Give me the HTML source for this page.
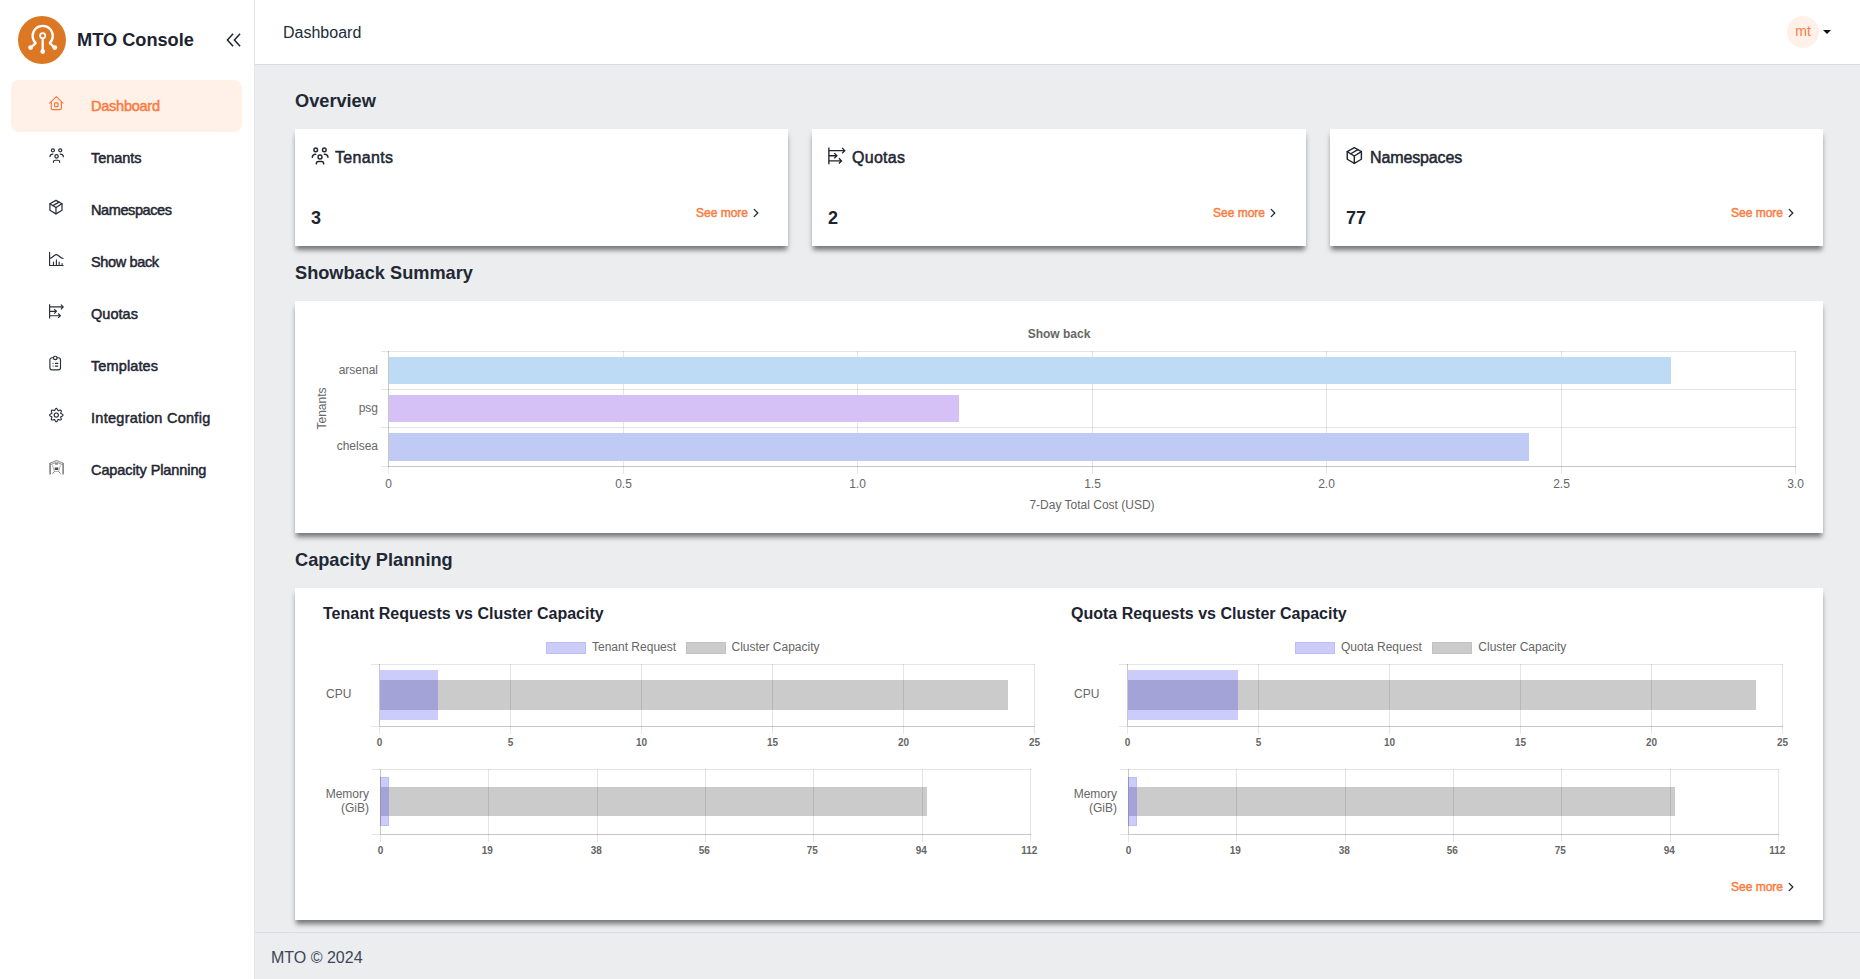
<!DOCTYPE html>
<html lang="en">
<head>
<meta charset="utf-8">
<title>MTO Console</title>
<style>
*{box-sizing:border-box;margin:0;padding:0}
html,body{width:1860px;height:979px;overflow:hidden;background:#ebedef}
body{position:relative;font-family:"Liberation Sans",sans-serif;color:#1f2733}
.abs{position:absolute}
/* ---------- sidebar ---------- */
#sidebar{position:absolute;left:0;top:0;width:255px;height:979px;background:#fff;border-right:1px solid #e3e5e9}
#logo{position:absolute;left:18px;top:16px;width:48px;height:48px}
#brand{position:absolute;left:77px;top:28px;font-size:18.2px;font-weight:700;line-height:24px;color:#1d2330;white-space:nowrap}
.nav{position:absolute;left:11px;width:231px;height:52px;border-radius:8px}
.nav.active{background:#fff0e8}
.nav .ico{position:absolute;left:36.9px;top:14.9px;width:17.1px;height:17.1px}
.nav .lbl{position:absolute;left:80px;top:15px;font-size:14.5px;line-height:22px;color:#1f2733;white-space:nowrap;-webkit-text-stroke:.5px #1f2733}
.nav.active .lbl{color:#f97c40;-webkit-text-stroke:.5px #f97c40}
/* ---------- header ---------- */
#header{position:absolute;left:255px;top:0;width:1605px;height:65px;background:#fff;border-bottom:1px solid #d8dbe0}
#crumb{position:absolute;left:28px;top:22px;font-size:16px;line-height:22px;color:#222b38;white-space:nowrap}
#avatar{position:absolute;left:1532px;top:16px;width:32px;height:32px;border-radius:50%;background:#fff0e8;color:#f97c40;font-size:14px;line-height:30px;text-align:center}
#caret{position:absolute;left:1568px;top:30px;width:0;height:0;border-left:4px solid transparent;border-right:4px solid transparent;border-top:4px solid #111}
/* ---------- content ---------- */
.h{position:absolute;left:295px;font-size:18.2px;font-weight:700;line-height:24px;color:#222834;white-space:nowrap}
.card{position:absolute;background:#fff;box-shadow:0 5px 5px -1px rgba(0,0,0,.5)}
.ct{position:absolute;left:40px;top:18px;font-size:16px;line-height:22px;color:#1f2733;white-space:nowrap;-webkit-text-stroke:.5px #1f2733}
.cn{position:absolute;left:16px;top:77px;font-size:18px;font-weight:700;line-height:24px;color:#1d2330}
.sm{position:absolute;font-size:12px;line-height:16px;color:#f97c40;white-space:nowrap;-webkit-text-stroke:.45px #f97c40}
.chev{position:absolute;width:8px;height:10px}
.cico{position:absolute;left:14.6px;top:16.5px;width:20px;height:20px;color:#22272f}
.nav .ico{color:#2a2f38}
.nav.active .ico{color:#f6773a}
/* ---------- footer ---------- */
#footer{position:absolute;left:255px;top:932px;width:1605px;height:47px;border-top:1px solid #d8dbe0;background:#ebedef}
#footer span{position:absolute;left:16px;top:14px;font-size:16px;line-height:22px;color:#3c4656;white-space:nowrap}
/* ---------- charts ---------- */
.t{position:absolute;font-size:12px;line-height:14px;color:#666;white-space:nowrap}
.tb{position:absolute;font-size:10px;font-weight:700;line-height:12px;color:#666;white-space:nowrap;width:40px;margin-left:-20px;text-align:center}
.tc{width:60px;margin-left:-30px;text-align:center}
.g{position:absolute;background:#e2e2e2}
.ax{position:absolute;background:#c4c4c4}
.bar{position:absolute}
</style>
</head>
<body>
<svg width="0" height="0" style="position:absolute">
<defs>
<symbol id="i-home" viewBox="-0.1 -0.1 17.1 17.1"><g fill="none" stroke="currentColor" stroke-width="1.15" stroke-linecap="round" stroke-linejoin="round"><path d="M1.6 8 L8.25 1.5 L14.9 8"/><path d="M3.2 6.9 V13 a1.6 1.6 0 0 0 1.6 1.6 H11.7 a1.6 1.6 0 0 0 1.6 -1.6 V6.9"/><rect x="6.45" y="7.8" width="3.5" height="3.7" rx=".6"/></g></symbol>
<symbol id="i-tenants" viewBox="0 0 16 16"><g fill="none" stroke="currentColor" stroke-width="1.15" stroke-linecap="round" stroke-linejoin="round"><circle cx="4.6" cy="3.1" r="1.45"/><circle cx="11.45" cy="3.1" r="1.45"/><circle cx="8" cy="8.75" r="1.6"/><path d="M1.8 9.1 A2.8 2.8 0 0 1 4.6 6.6"/><path d="M11.5 6.6 A2.8 2.8 0 0 1 14.4 9.1"/><path d="M5.1 14.3 V13.9 a1.5 1.5 0 0 1 1.5 -1.5 H9.4 a1.5 1.5 0 0 1 1.5 1.5 V14.3"/></g></symbol>
<symbol id="i-cube" viewBox="0 0 16 16"><g fill="none" stroke="currentColor" stroke-width="1.15" stroke-linecap="round" stroke-linejoin="round"><path d="M7.45 1.3 L13.1 4.45 V10.6 L7.45 13.9 L1.8 10.6 V4.45 Z"/><path d="M1.8 4.45 L7.45 8 L13.1 4.45"/><path d="M7.45 8 V13.9"/><path d="M4.6 6.2 L10.3 2.9"/></g></symbol>
<symbol id="i-chart" viewBox="-0.1 -0.1 17.1 17.1"><g fill="none" stroke="currentColor" stroke-width="1.15" stroke-linecap="round" stroke-linejoin="round"><path d="M1.5 1.3 V14.4 H15"/><path d="M1.5 7.4 C4.6 7.4 5.4 3.6 8.2 3.6 S11.9 7.4 15 7.4"/><path d="M5.4 11 V14.4 M8.3 8.8 V14.4 M11.05 11 V14.4 M14 12.4 V14.4"/></g></symbol>
<symbol id="i-quota" viewBox="0 0 16 16"><g fill="none" stroke="currentColor" stroke-width="1.1" stroke-linecap="butt" stroke-linejoin="miter"><path d="M1.5 1.2 V14.6"/><path d="M1.5 3.7 H13.6 M12.1 1.5 L14.2 3.7 L12.1 5.9"/><path d="M1.5 7.8 H7.3 M5.8 5.7 L7.9 7.8 L5.8 9.9"/><path d="M1.5 11.9 H10.9 M9.5 9.8 L11.6 11.9 L9.5 14"/></g></symbol>
<symbol id="i-clip" viewBox="-0.1 -0.1 17.1 17.1"><g fill="none" stroke="currentColor" stroke-width="1.15" stroke-linecap="round" stroke-linejoin="round"><path d="M5.4 2.7 H4 a2.2 2.2 0 0 0 -2.2 2.2 V12.6 a2.2 2.2 0 0 0 2.2 2.2 H10.2 a2.2 2.2 0 0 0 2.2 -2.2 V4.9 a2.2 2.2 0 0 0 -2.2 -2.2 H9"/><rect x="5.4" y="1.2" width="3.6" height="3.3" rx="1.6"/><path d="M7.3 8.3 H9.7 M7.3 11 H9.7"/><path d="M4.7 8.3 H5.3 M4.7 11 H5.3" stroke-opacity=".55"/></g></symbol>
<symbol id="i-gear" viewBox="-0.1 -0.1 17.1 17.1"><g fill="none" stroke="currentColor" stroke-width="1.15" stroke-linejoin="round"><path d="M14.90 8.00 L14.76 8.43 L14.37 8.81 L13.84 9.12 L13.30 9.37 L12.87 9.58 L12.63 9.84 L12.62 10.18 L12.77 10.64 L12.98 11.19 L13.14 11.79 L13.14 12.33 L12.94 12.74 L12.53 12.94 L11.99 12.94 L11.39 12.78 L10.84 12.57 L10.38 12.42 L10.04 12.43 L9.78 12.67 L9.57 13.10 L9.32 13.64 L9.01 14.17 L8.63 14.56 L8.20 14.70 L7.77 14.56 L7.39 14.17 L7.08 13.64 L6.83 13.10 L6.62 12.67 L6.36 12.43 L6.02 12.42 L5.56 12.57 L5.01 12.78 L4.41 12.94 L3.87 12.94 L3.46 12.74 L3.26 12.33 L3.26 11.79 L3.42 11.19 L3.63 10.64 L3.78 10.18 L3.77 9.84 L3.53 9.58 L3.10 9.37 L2.56 9.12 L2.03 8.81 L1.64 8.43 L1.50 8.00 L1.64 7.57 L2.03 7.19 L2.56 6.88 L3.10 6.63 L3.53 6.42 L3.77 6.16 L3.78 5.82 L3.63 5.36 L3.42 4.81 L3.26 4.21 L3.26 3.67 L3.46 3.26 L3.87 3.06 L4.41 3.06 L5.01 3.22 L5.56 3.43 L6.02 3.58 L6.36 3.57 L6.62 3.33 L6.83 2.90 L7.08 2.36 L7.39 1.83 L7.77 1.44 L8.20 1.30 L8.63 1.44 L9.01 1.83 L9.32 2.36 L9.57 2.90 L9.78 3.33 L10.04 3.57 L10.38 3.58 L10.84 3.43 L11.39 3.22 L11.99 3.06 L12.53 3.06 L12.94 3.26 L13.14 3.67 L13.14 4.21 L12.98 4.81 L12.77 5.36 L12.62 5.82 L12.63 6.16 L12.87 6.42 L13.30 6.63 L13.84 6.88 L14.37 7.19 L14.76 7.57Z"/><circle cx="8.2" cy="8" r="2.1"/></g></symbol>
<symbol id="i-cap" viewBox="-0.1 -0.1 17.1 17.1"><g fill="none" stroke="#787878" stroke-width="1" stroke-linecap="butt" stroke-linejoin="round"><path d="M1.3 4.4 L8.4 1.4 L15.7 4.4" stroke-width=".9"/><path d="M2.6 5.5 L8.4 3.1 L14.4 5.5" stroke-width=".8"/><path d="M2 4.2 V15.5 M15 4.2 V15.5" stroke-width="1.5"/><path d="M4.4 5.8 L6.2 12.4 H10.6 L12.4 5.8" stroke-width=".8" stroke-opacity=".7"/><path d="M6.2 12.4 L4.4 14.6 M10.6 12.4 L12.4 14.6" stroke-width="1"/><rect x="6.6" y="8.4" width="3.6" height="2.5" fill="#4a4a4a" stroke="none"/><rect x="7" y="4.3" width="2.8" height="1.1" fill="#4a4a4a" stroke="none"/></g></symbol>
<symbol id="i-chev" viewBox="0 0 8 10"><path d="M2.2 1.4 L5.8 5 L2.2 8.6" fill="none" stroke="#222834" stroke-width="1.3" stroke-linecap="round" stroke-linejoin="round"/></symbol>
</defs>
</svg>
<!-- SIDEBAR -->
<div id="sidebar">
  <svg id="logo" viewBox="0 0 48 48"><circle cx="24" cy="24" r="24" fill="#dc7824"/><g fill="none" stroke="#fff" stroke-width="2.3" stroke-linecap="round" stroke-linejoin="round"><path d="M12.8 31.7 L17.6 27.1 A10.1 10.1 0 1 1 31.8 27.1 L36.6 31.7"/><path d="M24.7 23 V35.5"/><circle cx="24.7" cy="19.8" r="2.6" stroke-width="1.7"/></g><g fill="#fff"><circle cx="12.6" cy="31.6" r="2.4"/><circle cx="36.8" cy="31.6" r="2.4"/><circle cx="24.7" cy="35.6" r="2.3"/></g></svg>
  <div id="brand">MTO Console</div>
  <svg id="collapse" viewBox="0 0 16 14" style="position:absolute;left:226px;top:33px;width:16px;height:14px"><path d="M6.6 1.3 L1.4 7 L6.6 12.7 M13.6 1.3 L8.4 7 L13.6 12.7" fill="none" stroke="#1d2330" stroke-width="1.5" stroke-linecap="square" stroke-linejoin="miter"/></svg>
  <div class="nav active" style="top:80px"><svg class="ico"><use href="#i-home"/></svg><div class="lbl" style="letter-spacing:-0.24px">Dashboard</div></div>
  <div class="nav" style="top:132px"><svg class="ico"><use href="#i-tenants"/></svg><div class="lbl" style="letter-spacing:-0.03px">Tenants</div></div>
  <div class="nav" style="top:184px"><svg class="ico"><use href="#i-cube"/></svg><div class="lbl" style="letter-spacing:-0.41px">Namespaces</div></div>
  <div class="nav" style="top:236px"><svg class="ico"><use href="#i-chart"/></svg><div class="lbl" style="letter-spacing:-0.36px">Show back</div></div>
  <div class="nav" style="top:288px"><svg class="ico"><use href="#i-quota"/></svg><div class="lbl" style="letter-spacing:0.04px">Quotas</div></div>
  <div class="nav" style="top:340px"><svg class="ico"><use href="#i-clip"/></svg><div class="lbl" style="letter-spacing:0.12px">Templates</div></div>
  <div class="nav" style="top:392px"><svg class="ico"><use href="#i-gear"/></svg><div class="lbl" style="letter-spacing:0.28px">Integration Config</div></div>
  <div class="nav" style="top:444px"><svg class="ico"><use href="#i-cap"/></svg><div class="lbl" style="letter-spacing:-0.09px">Capacity Planning</div></div>
</div>
<!-- HEADER -->
<div id="header">
  <div id="crumb">Dashboard</div>
  <div id="avatar">mt</div>
  <div id="caret"></div>
</div>
<!-- CONTENT -->
<div class="h" style="top:89px">Overview</div>
<div class="card" id="c1" style="left:295px;top:129px;width:493px;height:117px"><svg class="cico"><use href="#i-tenants"/></svg><div class="ct" style="letter-spacing:0.32px">Tenants</div><div class="cn">3</div><div class="sm" style="left:401px;top:76px">See more</div><svg class="chev" style="left:457px;top:79px"><use href="#i-chev"/></svg></div>
<div class="card" id="c2" style="left:812px;top:129px;width:494px;height:117px"><svg class="cico"><use href="#i-quota"/></svg><div class="ct" style="letter-spacing:0.28px">Quotas</div><div class="cn">2</div><div class="sm" style="left:401px;top:76px">See more</div><svg class="chev" style="left:457px;top:79px"><use href="#i-chev"/></svg></div>
<div class="card" id="c3" style="left:1330px;top:129px;width:493px;height:117px"><svg class="cico"><use href="#i-cube"/></svg><div class="ct" style="letter-spacing:-0.13px">Namespaces</div><div class="cn">77</div><div class="sm" style="left:401px;top:76px">See more</div><svg class="chev" style="left:457px;top:79px"><use href="#i-chev"/></svg></div>
<div class="h" style="top:261px">Showback Summary</div>
<div class="card" id="c4" style="left:295px;top:301px;width:1528px;height:232px"></div>
<div class="h" style="top:548px">Capacity Planning</div>
<div class="card" id="c5" style="left:295px;top:588px;width:1528px;height:332px"><div class="sm" style="left:1436px;top:291px">See more</div><svg class="chev" style="left:1492px;top:294px"><use href="#i-chev"/></svg></div>
<!--CHARTS-->
<svg id="charts" width="1860" height="979" viewBox="0 0 1860 979" shape-rendering="crispEdges" style="position:absolute;left:0;top:0;font-family:'Liberation Sans',sans-serif">
<rect x="381" y="351" width="1415" height="1" fill="rgba(0,0,0,.1)"/>
<rect x="381" y="389" width="1415" height="1" fill="rgba(0,0,0,.1)"/>
<rect x="381" y="427" width="1415" height="1" fill="rgba(0,0,0,.1)"/>
<rect x="381" y="466" width="7" height="1" fill="rgba(0,0,0,.1)"/>
<rect x="388" y="466" width="1408" height="1" fill="rgba(0,0,0,.22)"/>
<rect x="388" y="351" width="1" height="116" fill="rgba(0,0,0,.22)"/>
<rect x="388" y="467" width="1" height="7" fill="rgba(0,0,0,.1)"/>
<rect x="623" y="351" width="1" height="123" fill="rgba(0,0,0,.1)"/>
<rect x="857" y="351" width="1" height="123" fill="rgba(0,0,0,.1)"/>
<rect x="1092" y="351" width="1" height="123" fill="rgba(0,0,0,.1)"/>
<rect x="1326" y="351" width="1" height="123" fill="rgba(0,0,0,.1)"/>
<rect x="1561" y="351" width="1" height="123" fill="rgba(0,0,0,.1)"/>
<rect x="1795" y="351" width="1" height="123" fill="rgba(0,0,0,.1)"/>
<rect x="389" y="357" width="1282" height="27" fill="#bedbf5"/>
<rect x="389" y="395" width="570" height="27" fill="#d5c1f5"/>
<rect x="389" y="433" width="1140" height="28" fill="#c0cbf5"/>
<text x="1059" y="338" text-anchor="middle" font-size="12" font-weight="700" fill="#666">Show back</text>
<text x="378" y="373.7" text-anchor="end" font-size="12" font-weight="400" fill="#666">arsenal</text>
<text x="378" y="411.7" text-anchor="end" font-size="12" font-weight="400" fill="#666">psg</text>
<text x="378" y="449.7" text-anchor="end" font-size="12" font-weight="400" fill="#666">chelsea</text>
<text x="388.5" y="488" text-anchor="middle" font-size="12" font-weight="400" fill="#666">0</text>
<text x="623.5" y="488" text-anchor="middle" font-size="12" font-weight="400" fill="#666">0.5</text>
<text x="857.5" y="488" text-anchor="middle" font-size="12" font-weight="400" fill="#666">1.0</text>
<text x="1092.5" y="488" text-anchor="middle" font-size="12" font-weight="400" fill="#666">1.5</text>
<text x="1326.5" y="488" text-anchor="middle" font-size="12" font-weight="400" fill="#666">2.0</text>
<text x="1561.5" y="488" text-anchor="middle" font-size="12" font-weight="400" fill="#666">2.5</text>
<text x="1795.5" y="488" text-anchor="middle" font-size="12" font-weight="400" fill="#666">3.0</text>
<text x="1092" y="508.5" text-anchor="middle" font-size="12" font-weight="400" fill="#666">7-Day Total Cost (USD)</text>
<text transform="translate(325.5,408.5) rotate(-90)" text-anchor="middle" font-size="12" fill="#666">Tenants</text>
<text x="323" y="619" text-anchor="start" font-size="16" font-weight="700" fill="#1d2330">Tenant Requests vs Cluster Capacity</text>
<rect x="546.5" y="642.5" width="39" height="11" fill="#ccccfb" stroke="#bdbdf5" stroke-width="1"/>
<text x="592" y="651" text-anchor="start" font-size="12" font-weight="400" fill="#666">Tenant Request</text>
<rect x="686.0" y="642.5" width="39" height="11" fill="#cbcbcb" stroke="#c2c2c2" stroke-width="1"/>
<text x="731.5" y="651" text-anchor="start" font-size="12" font-weight="400" fill="#666">Cluster Capacity</text>
<rect x="380" y="670" width="58" height="50" fill="#ccccfb"/>
<rect x="380" y="680" width="628" height="30" fill="#cbcbcb"/>
<rect x="380" y="680" width="58" height="30" fill="#a3a3d7"/>
<rect x="371" y="664" width="664" height="1" fill="rgba(0,0,0,.1)"/>
<rect x="371" y="726" width="8" height="1" fill="rgba(0,0,0,.1)"/>
<rect x="379" y="726" width="656" height="1" fill="rgba(0,0,0,.22)"/>
<rect x="379" y="664" width="1" height="62" fill="rgba(0,0,0,.22)"/>
<rect x="379" y="727" width="1" height="7" fill="rgba(0,0,0,.1)"/>
<rect x="510" y="664" width="1" height="70" fill="rgba(0,0,0,.1)"/>
<rect x="641" y="664" width="1" height="70" fill="rgba(0,0,0,.1)"/>
<rect x="772" y="664" width="1" height="70" fill="rgba(0,0,0,.1)"/>
<rect x="903" y="664" width="1" height="70" fill="rgba(0,0,0,.1)"/>
<rect x="1034" y="664" width="1" height="70" fill="rgba(0,0,0,.1)"/>
<text x="326" y="698" text-anchor="start" font-size="12" font-weight="400" fill="#666">CPU</text>
<text x="379.5" y="746" text-anchor="middle" font-size="10" font-weight="700" fill="#666">0</text>
<text x="510.5" y="746" text-anchor="middle" font-size="10" font-weight="700" fill="#666">5</text>
<text x="641.5" y="746" text-anchor="middle" font-size="10" font-weight="700" fill="#666">10</text>
<text x="772.5" y="746" text-anchor="middle" font-size="10" font-weight="700" fill="#666">15</text>
<text x="903.5" y="746" text-anchor="middle" font-size="10" font-weight="700" fill="#666">20</text>
<text x="1034.5" y="746" text-anchor="middle" font-size="10" font-weight="700" fill="#666">25</text>
<rect x="380.5" y="777.5" width="8.0" height="48" fill="#ccccfb" stroke="#bdbdf5" stroke-width="1"/>
<rect x="381" y="787" width="546" height="29" fill="#cbcbcb"/>
<rect x="381" y="787" width="8" height="29" fill="#a3a3d7"/>
<rect x="372" y="769" width="659" height="1" fill="rgba(0,0,0,.1)"/>
<rect x="372" y="834" width="8" height="1" fill="rgba(0,0,0,.1)"/>
<rect x="380" y="834" width="651" height="1" fill="rgba(0,0,0,.22)"/>
<rect x="380" y="769" width="1" height="65" fill="rgba(0,0,0,.22)"/>
<rect x="380" y="835" width="1" height="7" fill="rgba(0,0,0,.1)"/>
<rect x="488" y="769" width="1" height="73" fill="rgba(0,0,0,.1)"/>
<rect x="597" y="769" width="1" height="73" fill="rgba(0,0,0,.1)"/>
<rect x="705" y="769" width="1" height="73" fill="rgba(0,0,0,.1)"/>
<rect x="813" y="769" width="1" height="73" fill="rgba(0,0,0,.1)"/>
<rect x="922" y="769" width="1" height="73" fill="rgba(0,0,0,.1)"/>
<rect x="1030" y="769" width="1" height="73" fill="rgba(0,0,0,.1)"/>
<text x="369" y="798" text-anchor="end" font-size="12" font-weight="400" fill="#666">Memory</text>
<text x="369" y="812.4" text-anchor="end" font-size="12" font-weight="400" fill="#666">(GiB)</text>
<text x="380.5" y="854" text-anchor="middle" font-size="10" font-weight="700" fill="#666">0</text>
<text x="487.2" y="854" text-anchor="middle" font-size="10" font-weight="700" fill="#666">19</text>
<text x="596.2" y="854" text-anchor="middle" font-size="10" font-weight="700" fill="#666">38</text>
<text x="704.2" y="854" text-anchor="middle" font-size="10" font-weight="700" fill="#666">56</text>
<text x="812.2" y="854" text-anchor="middle" font-size="10" font-weight="700" fill="#666">75</text>
<text x="921.2" y="854" text-anchor="middle" font-size="10" font-weight="700" fill="#666">94</text>
<text x="1029.2" y="854" text-anchor="middle" font-size="10" font-weight="700" fill="#666">112</text>
<text x="1071" y="619" text-anchor="start" font-size="16" font-weight="700" fill="#1d2330">Quota Requests vs Cluster Capacity</text>
<rect x="1295.5" y="642.5" width="39" height="11" fill="#ccccfb" stroke="#bdbdf5" stroke-width="1"/>
<text x="1341" y="651" text-anchor="start" font-size="12" font-weight="400" fill="#666">Quota Request</text>
<rect x="1432.8" y="642.5" width="39" height="11" fill="#cbcbcb" stroke="#c2c2c2" stroke-width="1"/>
<text x="1478.3" y="651" text-anchor="start" font-size="12" font-weight="400" fill="#666">Cluster Capacity</text>
<rect x="1128" y="670" width="110" height="50" fill="#ccccfb"/>
<rect x="1128" y="680" width="628" height="30" fill="#cbcbcb"/>
<rect x="1128" y="680" width="110" height="30" fill="#a3a3d7"/>
<rect x="1119" y="664" width="664" height="1" fill="rgba(0,0,0,.1)"/>
<rect x="1119" y="726" width="8" height="1" fill="rgba(0,0,0,.1)"/>
<rect x="1127" y="726" width="656" height="1" fill="rgba(0,0,0,.22)"/>
<rect x="1127" y="664" width="1" height="62" fill="rgba(0,0,0,.22)"/>
<rect x="1127" y="727" width="1" height="7" fill="rgba(0,0,0,.1)"/>
<rect x="1258" y="664" width="1" height="70" fill="rgba(0,0,0,.1)"/>
<rect x="1389" y="664" width="1" height="70" fill="rgba(0,0,0,.1)"/>
<rect x="1520" y="664" width="1" height="70" fill="rgba(0,0,0,.1)"/>
<rect x="1651" y="664" width="1" height="70" fill="rgba(0,0,0,.1)"/>
<rect x="1782" y="664" width="1" height="70" fill="rgba(0,0,0,.1)"/>
<text x="1074" y="698" text-anchor="start" font-size="12" font-weight="400" fill="#666">CPU</text>
<text x="1127.5" y="746" text-anchor="middle" font-size="10" font-weight="700" fill="#666">0</text>
<text x="1258.5" y="746" text-anchor="middle" font-size="10" font-weight="700" fill="#666">5</text>
<text x="1389.5" y="746" text-anchor="middle" font-size="10" font-weight="700" fill="#666">10</text>
<text x="1520.5" y="746" text-anchor="middle" font-size="10" font-weight="700" fill="#666">15</text>
<text x="1651.5" y="746" text-anchor="middle" font-size="10" font-weight="700" fill="#666">20</text>
<text x="1782.5" y="746" text-anchor="middle" font-size="10" font-weight="700" fill="#666">25</text>
<rect x="1128.5" y="777.5" width="8.0" height="48" fill="#ccccfb" stroke="#bdbdf5" stroke-width="1"/>
<rect x="1129" y="787" width="546" height="29" fill="#cbcbcb"/>
<rect x="1129" y="787" width="8" height="29" fill="#a3a3d7"/>
<rect x="1120" y="769" width="659" height="1" fill="rgba(0,0,0,.1)"/>
<rect x="1120" y="834" width="8" height="1" fill="rgba(0,0,0,.1)"/>
<rect x="1128" y="834" width="651" height="1" fill="rgba(0,0,0,.22)"/>
<rect x="1128" y="769" width="1" height="65" fill="rgba(0,0,0,.22)"/>
<rect x="1128" y="835" width="1" height="7" fill="rgba(0,0,0,.1)"/>
<rect x="1236" y="769" width="1" height="73" fill="rgba(0,0,0,.1)"/>
<rect x="1345" y="769" width="1" height="73" fill="rgba(0,0,0,.1)"/>
<rect x="1453" y="769" width="1" height="73" fill="rgba(0,0,0,.1)"/>
<rect x="1561" y="769" width="1" height="73" fill="rgba(0,0,0,.1)"/>
<rect x="1670" y="769" width="1" height="73" fill="rgba(0,0,0,.1)"/>
<rect x="1778" y="769" width="1" height="73" fill="rgba(0,0,0,.1)"/>
<text x="1117" y="798" text-anchor="end" font-size="12" font-weight="400" fill="#666">Memory</text>
<text x="1117" y="812.4" text-anchor="end" font-size="12" font-weight="400" fill="#666">(GiB)</text>
<text x="1128.5" y="854" text-anchor="middle" font-size="10" font-weight="700" fill="#666">0</text>
<text x="1235.2" y="854" text-anchor="middle" font-size="10" font-weight="700" fill="#666">19</text>
<text x="1344.2" y="854" text-anchor="middle" font-size="10" font-weight="700" fill="#666">38</text>
<text x="1452.2" y="854" text-anchor="middle" font-size="10" font-weight="700" fill="#666">56</text>
<text x="1560.2" y="854" text-anchor="middle" font-size="10" font-weight="700" fill="#666">75</text>
<text x="1669.2" y="854" text-anchor="middle" font-size="10" font-weight="700" fill="#666">94</text>
<text x="1777.2" y="854" text-anchor="middle" font-size="10" font-weight="700" fill="#666">112</text>
</svg>
<!--/CHARTS-->
<!-- FOOTER -->
<div id="footer"><span>MTO © 2024</span></div>
</body>
</html>
